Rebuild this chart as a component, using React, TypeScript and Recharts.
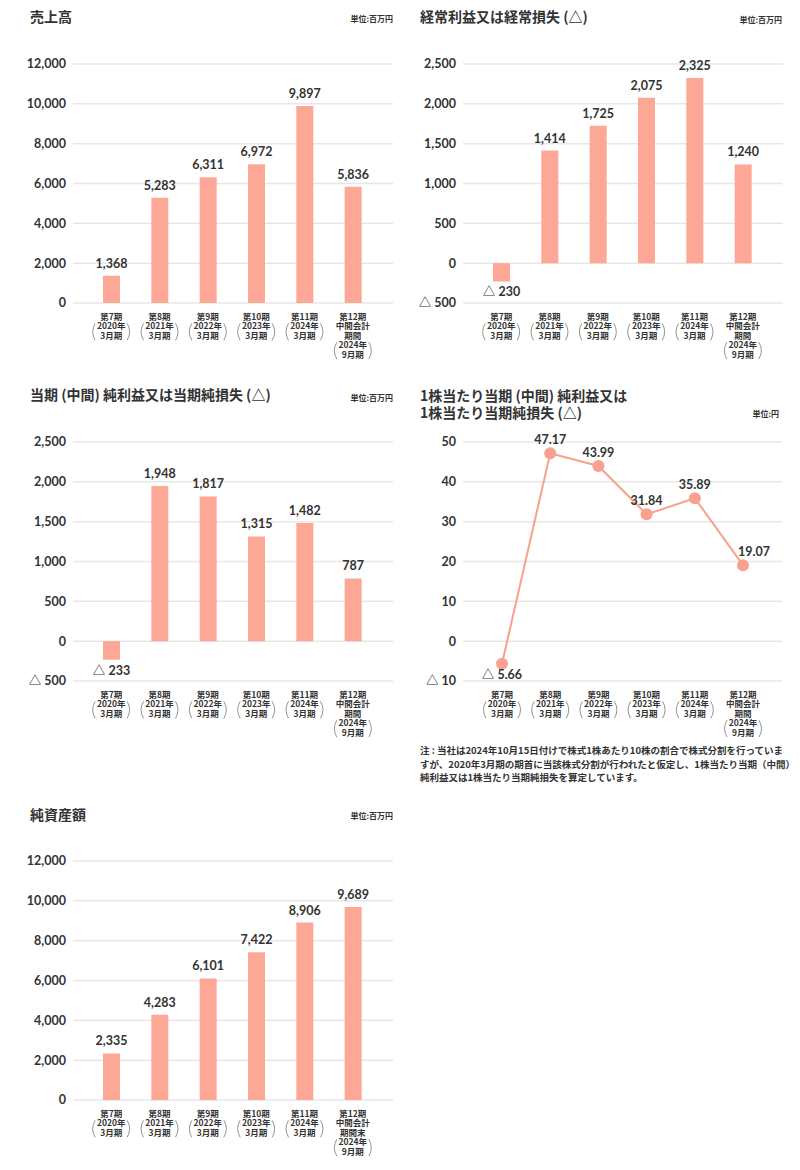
import {
  BarChart,
  Bar,
  LineChart,
  Line,
  XAxis,
  YAxis,
  CartesianGrid,
  LabelList,
} from "recharts";

// categories (fiscal periods) and their sub lines
const periodNames = ["第7期", "第8期", "第9期", "第10期", "第11期", "第12期"];
const periodExtra = [[], [], [], [], [], ["中間会計", "期間"]];
const periodExtraNetAssets = [[], [], [], [], [], ["中間会計", "期間末"]];
const termYears = ["2020年", "2021年", "2022年", "2023年", "2024年", "2024年"];
const termMonths = ["3月期", "3月期", "3月期", "3月期", "3月期", "9月期"];

// series (百万円 / 円)
const sales = [1368, 5283, 6311, 6972, 9897, 5836];
const ordinaryIncome = [-230, 1414, 1725, 2075, 2325, 1240];
const netIncome = [-233, 1948, 1817, 1315, 1482, 787];
const eps = [-5.66, 47.17, 43.99, 31.84, 35.89, 19.07];
const netAssets = [2335, 4283, 6101, 7422, 8906, 9689];

// y axis ticks
const amountTicks = [0, 2000, 4000, 6000, 8000, 10000, 12000];
const incomeTicks = [-500, 0, 500, 1000, 1500, 2000, 2500];
const epsTicks = [-10, 0, 10, 20, 30, 40, 50];

const noteLines = [
  "注 : 当社は2024年10月15日付けで株式1株あたり10株の割合で株式分割を行っていま",
  "すが、2020年3月期の期首に当該株式分割が行われたと仮定し、1株当たり当期（中間）",
  "純利益又は1株当たり当期純損失を算定しています。",
];

const INK = "#333333";
const BAR = "#fda797";
const LINE = "#f9a08e";
const GRID = "#e7e7e7";
const NUM_FONT = "Lato, 'Noto Sans CJK JP', sans-serif";
const JP_FONT = "'Noto Sans CJK JP', 'Noto Sans', sans-serif";

const rows = (values: number[]) =>
  periodNames.map((period, i) => ({ period, value: values[i] }));

const fmtAmount = (v: number) =>
  v < 0
    ? `△ ${Math.abs(v).toLocaleString("en-US")}`
    : v.toLocaleString("en-US");
const fmtEps = (v: number) =>
  v < 0 ? `△ ${Math.abs(v).toFixed(2)}` : v.toFixed(2);
const fmtEpsTick = (v: number) => (v < 0 ? `△ ${Math.abs(v)}` : `${v}`);

const yTick = { fill: INK, fontSize: 12.5, fontWeight: 700, fontFamily: NUM_FONT };

function PeriodTick(props: any) {
  const { x, y, payload, extra } = props;
  const i = payload.index;
  const lines = [periodNames[i], ...extra[i], termYears[i], termMonths[i]];
  const lh = 9.4;
  const base = Number(y) + 17;
  const k = lines.length - 2;
  const top = base + k * lh - 6;
  const bottom = base + (k + 1) * lh + 1.5;
  const mid = (top + bottom) / 2;
  const cx = Number(x);
  return (
    <g>
      <text
        x={cx}
        y={base}
        textAnchor="middle"
        fill={INK}
        fontSize={8.5}
        fontWeight={700}
        fontFamily={JP_FONT}
      >
        {lines.map((t, n) => (
          <tspan key={n} x={cx} y={base + n * lh}>
            {t}
          </tspan>
        ))}
      </text>
      <path
        d={`M${cx - 16},${top} Q${cx - 21},${mid} ${cx - 16},${bottom}`}
        stroke="#777"
        strokeWidth={0.8}
        fill="none"
      />
      <path
        d={`M${cx + 16},${top} Q${cx + 21},${mid} ${cx + 16},${bottom}`}
        stroke="#777"
        strokeWidth={0.8}
        fill="none"
      />
    </g>
  );
}

function BarValueLabel(props: any) {
  const x = Number(props.x);
  const y = Number(props.y);
  const w = Number(props.width);
  const h = Number(props.height);
  const value = Number(props.value);
  const top = Math.min(y, y + h);
  const bottom = Math.max(y, y + h);
  return (
    <text
      x={x + w / 2}
      y={value < 0 ? bottom + 15 : top - 8}
      textAnchor="middle"
      fill={INK}
      fontSize={12.5}
      fontWeight={700}
      fontFamily={NUM_FONT}
    >
      {fmtAmount(value)}
    </text>
  );
}

function PointValueLabel(props: any) {
  const x = Number(props.x);
  const y = Number(props.y);
  const value = Number(props.value);
  // last point: line comes down from the left, label sits a bit to the right
  const dx = props.index === eps.length - 1 ? 11 : 0;
  return (
    <text
      x={x + dx}
      y={value < 0 ? y + 15 : y - 9}
      textAnchor="middle"
      fill={INK}
      fontSize={12.5}
      fontWeight={700}
      fontFamily={NUM_FONT}
    >
      {fmtEps(value)}
    </text>
  );
}

interface BarPanelProps {
  left: number;
  top: number;
  values: number[];
  ticks: number[];
  axisWidth: number;
  rightMargin: number;
  extra: string[][];
}

function BarPanel({ left, top, values, ticks, axisWidth, rightMargin, extra }: BarPanelProps) {
  return (
    <div style={{ position: "absolute", left, top }}>
      <BarChart
        width={400}
        height={365}
        data={rows(values)}
        margin={{ top: 64, right: rightMargin, bottom: 2, left: 0 }}
      >
        <CartesianGrid vertical={false} stroke={GRID} strokeWidth={1.5} />
        <XAxis
          dataKey="period"
          axisLine={false}
          tickLine={false}
          tickSize={0}
          tickMargin={0}
          height={60}
          interval={0}
          padding={{ left: 14, right: 16 }}
          tick={<PeriodTick extra={extra} />}
        />
        <YAxis
          width={axisWidth}
          domain={[ticks[0], ticks[ticks.length - 1]]}
          ticks={ticks}
          interval={0}
          axisLine={false}
          tickLine={false}
          tickSize={0}
          tickMargin={7}
          tick={yTick}
          tickFormatter={fmtAmount}
        />
        <Bar dataKey="value" fill={BAR} barSize={17} isAnimationActive={false}>
          <LabelList dataKey="value" content={<BarValueLabel />} />
        </Bar>
      </BarChart>
    </div>
  );
}

const titleStyle = {
  position: "absolute" as const,
  fontFamily: JP_FONT,
  fontSize: 14,
  fontWeight: 700,
  color: INK,
  lineHeight: "17px",
  whiteSpace: "nowrap" as const,
};

const unitStyle = {
  position: "absolute" as const,
  fontFamily: JP_FONT,
  fontSize: 8,
  fontWeight: 700,
  color: INK,
  lineHeight: "10px",
  textAlign: "right" as const,
  whiteSpace: "nowrap" as const,
};

export default function App() {
  return (
    <div
      style={{
        position: "absolute",
        left: 0,
        top: 0,
        width: 800,
        height: 1170,
        background: "#fff",
        overflow: "hidden",
      }}
    >
      <BarPanel left={0} top={0} values={sales} ticks={amountTicks} axisWidth={73} rightMargin={7} extra={periodExtra} />
      <BarPanel left={400} top={0} values={ordinaryIncome} ticks={incomeTicks} axisWidth={63} rightMargin={17} extra={periodExtra} />
      <BarPanel left={0} top={378} values={netIncome} ticks={incomeTicks} axisWidth={73} rightMargin={7} extra={periodExtra} />
      <BarPanel left={0} top={797} values={netAssets} ticks={amountTicks} axisWidth={73} rightMargin={7} extra={periodExtraNetAssets} />

      <div style={{ position: "absolute", left: 400, top: 378 }}>
        <LineChart
          width={400}
          height={365}
          data={rows(eps)}
          margin={{ top: 64, right: 18, bottom: 2, left: 0 }}
        >
          <CartesianGrid vertical={false} stroke={GRID} strokeWidth={1.5} />
          <XAxis
            dataKey="period"
            axisLine={false}
            tickLine={false}
            tickSize={0}
            tickMargin={0}
            height={60}
            interval={0}
            padding={{ left: 39, right: 39 }}
            tick={<PeriodTick extra={periodExtra} />}
          />
          <YAxis
            width={63}
            domain={[epsTicks[0], epsTicks[epsTicks.length - 1]]}
            ticks={epsTicks}
            interval={0}
            axisLine={false}
            tickLine={false}
            tickSize={0}
            tickMargin={7}
            tick={yTick}
            tickFormatter={fmtEpsTick}
          />
          <Line
            type="linear"
            dataKey="value"
            stroke={LINE}
            strokeWidth={2}
            dot={{ r: 6, fill: LINE, stroke: "none" }}
            isAnimationActive={false}
          >
            <LabelList dataKey="value" content={<PointValueLabel />} />
          </Line>
        </LineChart>
      </div>

      <div style={{ ...titleStyle, left: 30, top: 8 }}>売上高</div>
      <div style={{ ...unitStyle, left: 300, width: 93, top: 14 }}>単位:百万円</div>

      <div style={{ ...titleStyle, left: 420, top: 8 }}>経常利益又は経常損失 (△)</div>
      <div style={{ ...unitStyle, left: 690, width: 92, top: 15 }}>単位:百万円</div>

      <div style={{ ...titleStyle, left: 30, top: 386 }}>当期 (中間) 純利益又は当期純損失 (△)</div>
      <div style={{ ...unitStyle, left: 300, width: 93, top: 393 }}>単位:百万円</div>

      <div style={{ ...titleStyle, left: 420, top: 387 }}>
        1株当たり当期 (中間) 純利益又は
        <br />
        1株当たり当期純損失 (△)
      </div>
      <div style={{ ...unitStyle, left: 690, width: 89, top: 409 }}>単位:円</div>

      <div
        style={{
          position: "absolute",
          left: 420,
          top: 744,
          fontFamily: JP_FONT,
          fontSize: 9.5,
          fontWeight: 700,
          color: INK,
          lineHeight: "13.5px",
          whiteSpace: "nowrap",
        }}
      >
        {noteLines.map((t, i) => (
          <div key={i}>{t}</div>
        ))}
      </div>

      <div style={{ ...titleStyle, left: 30, top: 806 }}>純資産額</div>
      <div style={{ ...unitStyle, left: 300, width: 93, top: 811 }}>単位:百万円</div>
    </div>
  );
}
